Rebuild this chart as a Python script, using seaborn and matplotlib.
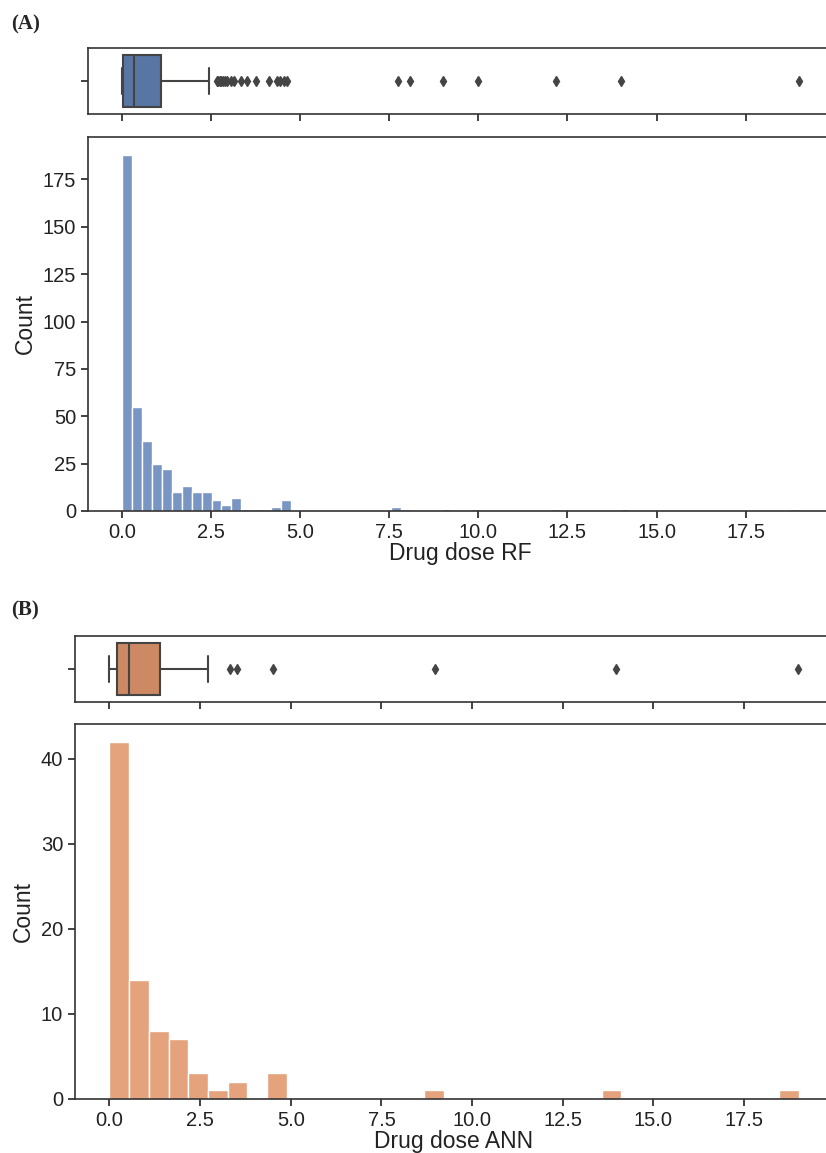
import numpy as np
import pandas as pd
import matplotlib
matplotlib.use("Agg")
import matplotlib.pyplot as plt
from matplotlib.ticker import MultipleLocator
import seaborn as sns

# ---------------- data ----------------
dose_max = 19.0

# Panel A: Random forest predicted dose, histogram with 68 equal bins on [0, 19]
rf_n_bins = 68
rf_counts = [188, 55, 37, 25, 22, 10, 13, 10, 10, 6, 3, 7, 1, 1, 1, 2, 6,
             0, 0, 0, 0, 0, 0, 0, 0, 0, 0,
             2, 1, 0, 0, 0, 1, 0, 0, 1,
             0, 0, 0, 0, 0, 0, 0, 1,
             0, 0, 0, 0, 0, 0, 1,
             0, 0, 0, 0, 0, 0, 0, 0, 0, 0, 0, 0, 0, 0, 0, 0, 1]
rf_box_stats = dict(whislo=0.0, q1=0.03, med=0.34, q3=1.10, whishi=2.45)
rf_outliers = [2.66, 2.70, 2.74, 2.78, 2.83, 2.88, 2.95, 3.05, 3.15, 3.33,
               3.50, 3.75, 4.14, 4.35, 4.45, 4.55, 4.64,
               7.76, 8.09, 9.02, 10.0, 12.17, 13.99, 19.0]
rf_ytick_step = 25

# Panel B: ANN predicted dose, histogram with 35 equal bins on [0, 19]
ann_n_bins = 35
ann_counts = [42, 14, 8, 7, 3, 1, 2, 0, 3,
              0, 0, 0, 0, 0, 0, 0, 1,
              0, 0, 0, 0, 0, 0, 0, 0, 1,
              0, 0, 0, 0, 0, 0, 0, 0, 1]
ann_box_stats = dict(whislo=0.0, q1=0.20, med=0.54, q3=1.39, whishi=2.72)
ann_outliers = [3.31, 3.51, 4.50, 8.98, 13.98, 18.98]
ann_ytick_step = 10

x_labels = ["Drug dose RF", "Drug dose ANN"]
panel_tags = ["(A)", "(B)"]

# ---------------- style ----------------
sns.set_style("ticks")
plt.rcParams['font.family'] = ['Liberation Sans', 'DejaVu Sans']
plt.rcParams['axes.edgecolor'] = '#333333'
plt.rcParams['axes.linewidth'] = 1.2
plt.rcParams['xtick.color'] = '#222222'
plt.rcParams['ytick.color'] = '#222222'
plt.rcParams['axes.labelcolor'] = '#222222'

palette = sns.color_palette("deep")
TICK_FS = 14.5
LABEL_FS = 16.5

W, H = 826, 1153
fig = plt.figure(figsize=(W / 100, H / 100), dpi=100)


def rect(left, top, right, bottom):
    return [left / W, 1 - bottom / H, (right - left) / W, (bottom - top) / H]


def panel(box_r, hist_r, counts, n_bins, stats, outliers, color, xlabel, ystep):
    bw = dose_max / n_bins
    centers = (np.arange(n_bins) + 0.5) * bw
    df = pd.DataFrame({"dose": centers, "count": counts})

    axh = fig.add_axes(hist_r)
    sns.histplot(data=df, x="dose", weights="count", binwidth=bw,
                 binrange=(0, dose_max), color=color,
                 alpha=0.75, edgecolor='white', linewidth=1, ax=axh)
    axh.set_xlim(-0.95, 19.95)
    axh.set_ylim(0, max(counts) * 1.05)
    axh.yaxis.set_major_locator(MultipleLocator(ystep))
    axh.set_xlabel(xlabel, fontsize=LABEL_FS, labelpad=0)
    axh.set_ylabel("Count", fontsize=LABEL_FS)
    axh.tick_params(labelsize=TICK_FS, length=5, width=1.2)

    axb = fig.add_axes(box_r, sharex=axh)
    st = dict(stats)
    st['fliers'] = outliers
    lc = '#444444'
    kw = dict(positions=[0], widths=0.8, patch_artist=True, showfliers=True,
              boxprops=dict(facecolor=sns.desaturate(color, 0.75), edgecolor=lc, linewidth=1.5),
              medianprops=dict(color=lc, linewidth=1.5),
              whiskerprops=dict(color=lc, linewidth=1.5),
              capprops=dict(color=lc, linewidth=1.5),
              flierprops=dict(marker='d', markerfacecolor=lc, markeredgecolor=lc,
                              markersize=5, linestyle='none'))
    try:
        axb.bxp([st], orientation='horizontal', **kw)
    except TypeError:
        axb.bxp([st], vert=False, **kw)
    axb.set_ylim(0.5, -0.5)
    axb.set_yticks([0])
    axb.set_yticklabels([''])
    axb.tick_params(axis='x', labelbottom=False)
    axb.tick_params(length=5, width=1.2)
    axb.set_xlim(-0.95, 19.95)
    return axh, axb


panel(rect(88, 48, 833, 114), rect(88, 137, 833, 511),
      rf_counts, rf_n_bins, rf_box_stats, rf_outliers, palette[0], x_labels[0],
      rf_ytick_step)
panel(rect(75, 636, 833, 702), rect(75, 724, 833, 1099),
      ann_counts, ann_n_bins, ann_box_stats, ann_outliers, palette[1], x_labels[1],
      ann_ytick_step)

for tag, ty in zip(panel_tags, [24, 610]):
    fig.text(11 / W, 1 - ty / H, tag, fontsize=15, fontweight='bold',
             family=['Liberation Serif', 'DejaVu Serif'], va='center', ha='left')

fig.savefig("out.png", dpi=100)
